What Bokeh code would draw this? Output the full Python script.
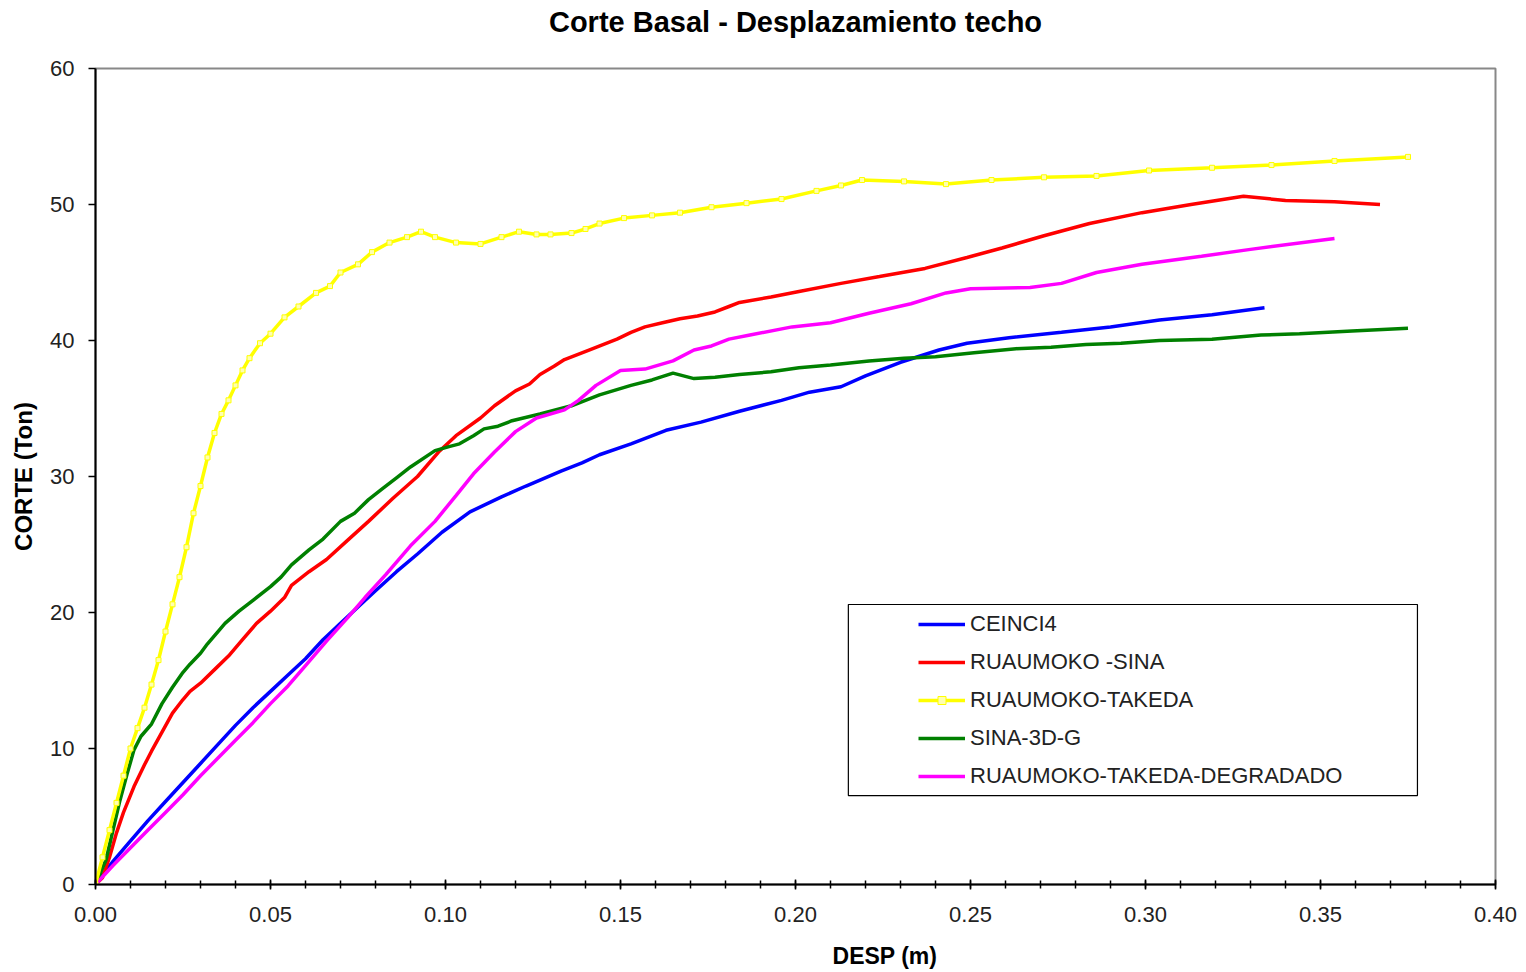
from bokeh.plotting import figure
from bokeh.models import (Range1d, SingleIntervalTicker, Title,
                          Legend, LegendItem, BoxAnnotation, NumeralTickFormatter)
from bokeh.embed import file_html
from bokeh.resources import INLINE

# ---------------- data ----------------
ceinci4_x = [0, 0.005, 0.010, 0.015, 0.020, 0.025, 0.030, 0.035, 0.040, 0.045, 0.050,
             0.055, 0.060, 0.065, 0.070, 0.075, 0.080, 0.086, 0.092, 0.099, 0.107, 0.116,
             0.123, 0.133, 0.139, 0.144, 0.153, 0.163, 0.173, 0.184, 0.196, 0.204, 0.213,
             0.220, 0.230, 0.241, 0.249, 0.261, 0.276, 0.290, 0.304, 0.319, 0.334]
ceinci4_y = [0, 1.7, 3.2, 4.7, 6.1, 7.5, 8.9, 10.3, 11.7, 13.0, 14.2,
             15.4, 16.6, 18.0, 19.2, 20.4, 21.6, 23.0, 24.3, 25.9, 27.4, 28.5,
             29.3, 30.4, 31.0, 31.6, 32.4, 33.4, 34.0, 34.8, 35.6, 36.2, 36.6,
             37.4, 38.4, 39.3, 39.8, 40.2, 40.6, 41.0, 41.5, 41.9, 42.4]

sina_x = [0, 0.002, 0.004, 0.006, 0.008, 0.011, 0.014, 0.016, 0.019, 0.022, 0.025,
          0.027, 0.030, 0.034, 0.038, 0.042, 0.046, 0.050, 0.054, 0.056, 0.061, 0.066,
          0.072, 0.078, 0.085, 0.092, 0.098, 0.103, 0.110, 0.114, 0.120, 0.124, 0.127,
          0.131, 0.134, 0.141, 0.145, 0.149, 0.153, 0.157, 0.162, 0.167, 0.172, 0.177,
          0.181, 0.184, 0.193, 0.201, 0.213, 0.224, 0.237, 0.249, 0.259, 0.271, 0.284,
          0.299, 0.313, 0.328, 0.340, 0.354, 0.367]
sina_y = [0, 0.5, 2.0, 3.8, 5.3, 7.2, 8.8, 9.8, 11.2, 12.6, 13.6,
          14.2, 14.8, 15.8, 16.8, 18.0, 19.2, 20.1, 21.1, 22.0, 23.0, 23.9,
          25.3, 26.7, 28.4, 30.0, 31.8, 33.0, 34.3, 35.2, 36.3, 36.8, 37.5,
          38.1, 38.6, 39.3, 39.7, 40.1, 40.6, 41.0, 41.3, 41.6, 41.8, 42.1,
          42.5, 42.8, 43.2, 43.6, 44.2, 44.7, 45.3, 46.1, 46.8, 47.7, 48.6,
          49.4, 50.0, 50.6, 50.3, 50.2, 50.0]

takeda_x = [0, 0.002, 0.004, 0.006, 0.008, 0.010, 0.012, 0.014, 0.016, 0.018, 0.020,
            0.022, 0.024, 0.026, 0.028, 0.030, 0.032, 0.034, 0.036, 0.038, 0.040,
            0.042, 0.044, 0.047, 0.050, 0.054, 0.058, 0.063, 0.067, 0.070, 0.075,
            0.079, 0.084, 0.089, 0.093, 0.097, 0.103, 0.110, 0.116, 0.121, 0.126,
            0.130, 0.136, 0.140, 0.144, 0.151, 0.159, 0.167, 0.176, 0.186, 0.196,
            0.206, 0.213, 0.219, 0.231, 0.243, 0.256, 0.271, 0.286, 0.301, 0.319,
            0.336, 0.354, 0.375]
takeda_y = [0, 2.0, 4.0, 6.0, 8.0, 10.0, 11.5, 13.0, 14.7, 16.5, 18.6,
            20.6, 22.6, 24.8, 27.3, 29.3, 31.4, 33.2, 34.6, 35.6, 36.7,
            37.8, 38.7, 39.8, 40.5, 41.7, 42.5, 43.5, 44.0, 45.0, 45.6,
            46.5, 47.2, 47.6, 48.0, 47.6, 47.2, 47.1, 47.6, 48.0, 47.8,
            47.8, 47.9, 48.2, 48.6, 49.0, 49.2, 49.4, 49.8, 50.1, 50.4,
            51.0, 51.4, 51.8, 51.7, 51.5, 51.8, 52.0, 52.1, 52.5, 52.7,
            52.9, 53.2, 53.5]

sina3d_x = [0, 0.003, 0.005, 0.007, 0.009, 0.011, 0.013, 0.016, 0.019, 0.022, 0.025,
            0.027, 0.030, 0.032, 0.035, 0.037, 0.041, 0.045, 0.050, 0.053, 0.056,
            0.061, 0.065, 0.070, 0.074, 0.078, 0.082, 0.086, 0.090, 0.097, 0.101,
            0.104, 0.108, 0.111, 0.115, 0.119, 0.127, 0.136, 0.144, 0.153, 0.159,
            0.165, 0.171, 0.177, 0.184, 0.193, 0.201, 0.210, 0.221, 0.231, 0.240,
            0.251, 0.263, 0.273, 0.283, 0.293, 0.304, 0.319, 0.333, 0.344, 0.359, 0.375]
sina3d_y = [0, 1.8, 4.0, 6.2, 8.1, 9.9, 10.9, 11.8, 13.3, 14.5, 15.6,
            16.2, 17.0, 17.7, 18.6, 19.2, 20.1, 20.9, 21.9, 22.6, 23.5,
            24.6, 25.4, 26.7, 27.3, 28.3, 29.1, 29.9, 30.7, 31.9, 32.2,
            32.4, 33.0, 33.5, 33.7, 34.1, 34.6, 35.2, 36.0, 36.7, 37.1,
            37.6, 37.2, 37.3, 37.5, 37.7, 38.0, 38.2, 38.5, 38.7, 38.8,
            39.1, 39.4, 39.5, 39.7, 39.8, 40.0, 40.1, 40.4, 40.5, 40.7, 40.9]

degradado_x = [0, 0.005, 0.010, 0.015, 0.020, 0.025, 0.030, 0.035, 0.040, 0.045, 0.050,
               0.055, 0.060, 0.066, 0.072, 0.077, 0.083, 0.090, 0.097, 0.103, 0.108,
               0.114, 0.120, 0.126, 0.134, 0.138, 0.143, 0.150, 0.157, 0.165, 0.171,
               0.176, 0.181, 0.187, 0.199, 0.210, 0.221, 0.233, 0.243, 0.250, 0.267,
               0.276, 0.286, 0.299, 0.316, 0.330, 0.354]
degradado_y = [0, 1.4, 2.7, 4.0, 5.3, 6.6, 8.0, 9.3, 10.6, 11.9, 13.3,
               14.6, 16.1, 17.9, 19.6, 21.1, 22.8, 24.9, 26.7, 28.6, 30.2,
               31.8, 33.3, 34.3, 34.9, 35.6, 36.7, 37.8, 37.9, 38.5, 39.3,
               39.6, 40.1, 40.4, 41.0, 41.3, 42.0, 42.7, 43.5, 43.8, 43.9,
               44.2, 45.0, 45.6, 46.2, 46.7, 47.5]

series_names = ["CEINCI4", "RUAUMOKO -SINA", "RUAUMOKO-TAKEDA", "SINA-3D-G",
                "RUAUMOKO-TAKEDA-DEGRADADO"]

FONT = "Liberation Sans"

p = figure(width=1518, height=971, output_backend="svg", toolbar_location=None,
           x_range=Range1d(0, 0.40), y_range=Range1d(0, 60),
           min_border_left=95, min_border_right=23, min_border_top=68,
           min_border_bottom=87, title="Corte Basal - Desplazamiento techo")

p.title.align = "center"
p.title.text_font = FONT
p.title.text_font_size = "29px"
p.title.text_font_style = "bold"
p.title.text_color = "black"
p.title.standoff = 6

# invisible spacer between the title and the frame
p.add_layout(Title(text="\u00a0", text_font_size="2px", standoff=24,
                   text_color="white"), "above")

p.background_fill_color = "white"
p.border_fill_color = "white"
p.outline_line_color = "#888888"
p.outline_line_width = 2
p.xgrid.visible = False
p.ygrid.visible = False

xax = p.below[0]
yax = p.left[0]

# x axis
xax.ticker = SingleIntervalTicker(interval=0.05, num_minor_ticks=5)
xax.formatter = NumeralTickFormatter(format="0.00")
xax.major_tick_in = 5
xax.major_tick_out = 5
xax.minor_tick_in = 4
xax.minor_tick_out = 4
xax.major_label_standoff = 17
# the reference's axis title sits right of centre: pad it with no-break spaces
xax.axis_label = "\u00a0" * 28 + "DESP (m)"
xax.axis_label_standoff = 18

# y axis
yax.ticker = SingleIntervalTicker(interval=10, num_minor_ticks=0)
yax.major_tick_in = 0
yax.major_tick_out = 7
yax.major_label_standoff = 14
yax.axis_label = "CORTE (Ton)"
yax.axis_label_standoff = 10

for ax in (xax, yax):
    ax.axis_line_color = "black"
    ax.axis_line_width = 2
    ax.major_tick_line_color = "black"
    ax.major_tick_line_width = 1.5
    ax.minor_tick_line_color = "black"
    ax.minor_tick_line_width = 1.5
    ax.major_label_text_font = FONT
    ax.major_label_text_font_size = "22px"
    ax.major_label_text_color = "#222222"
    ax.axis_label_text_font = FONT
    ax.axis_label_text_font_size = "24px"
    ax.axis_label_text_font_style = "bold"
    ax.axis_label_text_color = "black"
yax.minor_tick_line_color = None
xax.axis_label_text_font_size = "23px"

LW = 3.5
r_blue = p.line(ceinci4_x, ceinci4_y, line_color="#0000FF", line_width=LW)
r_red = p.line(sina_x, sina_y, line_color="#FF0000", line_width=LW)
r_green = p.line(sina3d_x, sina3d_y, line_color="#008000", line_width=LW)
r_pink = p.line(degradado_x, degradado_y, line_color="#FF00FF", line_width=LW)
r_yellow = p.line(takeda_x, takeda_y, line_color="#FFFF00", line_width=LW)
r_yellow_m = p.scatter(takeda_x, takeda_y, marker="square", size=5,
                       fill_color="#FFFFB0", line_color="#FFFF00", line_width=1)

# legend frame
p.add_layout(BoxAnnotation(left=0.2151, right=0.3777, bottom=6.54, top=20.59,
                           fill_color="white", fill_alpha=1.0,
                           line_color="black", line_alpha=1.0, line_width=1.2,
                           level="annotation"))

legend = Legend(items=[
    LegendItem(label=series_names[0], renderers=[r_blue]),
    LegendItem(label=series_names[1], renderers=[r_red]),
    LegendItem(label=series_names[2], renderers=[r_yellow, r_yellow_m]),
    LegendItem(label=series_names[3], renderers=[r_green]),
    LegendItem(label=series_names[4], renderers=[r_pink]),
], location=(823, 95), orientation="vertical")
legend.padding = 0
legend.margin = 0
legend.spacing = 12
legend.glyph_width = 47
legend.glyph_height = 20
legend.label_height = 20
legend.label_standoff = 5
legend.label_text_font = FONT
legend.label_text_font_size = "22px"
legend.label_text_color = "#222222"
legend.border_line_alpha = 0
legend.background_fill_alpha = 0
legend.inactive_fill_alpha = 0
p.add_layout(legend, "center")

open("out.html", "w").write(file_html(p, INLINE))
